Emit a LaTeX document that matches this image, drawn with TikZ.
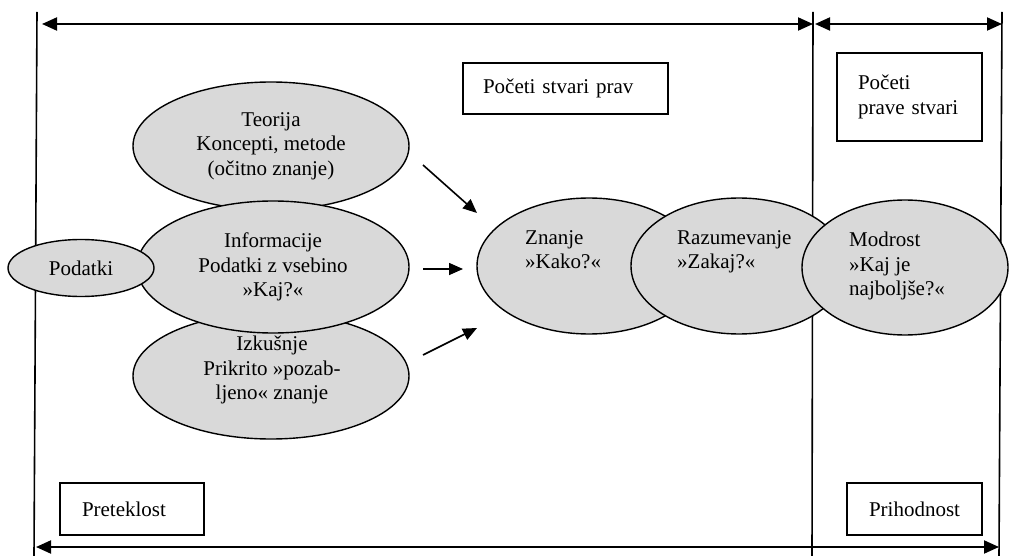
\documentclass[tikz,border=0pt]{standalone}
\usepackage{fontspec}
\setmainfont{Liberation Serif}
\usetikzlibrary{arrows.meta,shapes.geometric}
\definecolor{bubblegray}{HTML}{D9D9D9}

\begin{document}
\begin{tikzpicture}[x=1pt,y=-1pt,
  bubble/.style={ellipse,draw,line width=1.4pt,fill=bubblegray,inner sep=0pt,align=center,font=\fontsize{21}{24.5}\selectfont},
  txt/.style={inner sep=0pt,font=\fontsize{21}{24.5}\selectfont},
  tagbox/.style={draw,line width=1.8pt,fill=white,inner ysep=0pt,font=\fontsize{21}{24.5}\selectfont},
  border/.style={line width=1.6pt},
  period/.style={line width=2pt,{Triangle[length=15pt,width=13pt]}-{Triangle[length=15pt,width=13pt]}},
  flow/.style={line width=1.6pt,-{Triangle[length=14pt,width=12pt]}}]
\useasboundingbox (0,0) rectangle (1009,556);
% time axis
\draw[border] (37,12) -- (34,556);
\draw[border] (813,12) -- (812,556);
\draw[border] (1002,12) -- (999,556);
\coordinate (topl) at (42,24);
\coordinate (topm) at (813,24);
\coordinate (topm2) at (815,24);
\coordinate (topr) at (1002,24);
\coordinate (botl) at (36,547);
\coordinate (botr) at (999,547);
\draw[period] (topl) -- (topm);
\draw[period] (topm2) -- (topr);
\draw[period] (botl) -- (botr);
% labels
\node[tagbox,minimum width=205,minimum height=51,inner xsep=20,text width=165,align=left] (prav) at (565.5,88.5) {Početi stvari prav};
\node[tagbox,minimum width=145,minimum height=88,inner xsep=21,text width=103,align=left] (stvari) at (909.5,97) {Početi\\prave stvari};
\node[tagbox,minimum width=144,minimum height=52,inner xsep=22,text width=100,align=left] (preteklost) at (132,509) {Preteklost};
\node[tagbox,minimum width=135,minimum height=52,inner xsep=20,text width=95,align=center] (prihodnost) at (914.5,509) {Prihodnost};
% inputs
\node[bubble,minimum width=276,minimum height=128] (teorija) at (271,146) {Teorija\\Koncepti, metode\\(očitno znanje)};
\node[bubble,minimum width=276,minimum height=126] (izkusnje) at (271,376) {};
\node[bubble,minimum width=272,minimum height=132] (informacije) at (273,267) {Informacije\\Podatki z vsebino\\»Kaj?«};
\node[txt,align=center] (izkusnjetxt) at (272,370) {Izkušnje\\Prikrito »pozab-\\ljeno« znanje};
\node[bubble,minimum width=146,minimum height=57] (podatki) at (81,268) {Podatki};
% arrows
\coordinate (a1) at (423,165); \coordinate (b1) at (477,213);
\coordinate (a2) at (423,269); \coordinate (b2) at (463,269);
\coordinate (a3) at (423,355); \coordinate (b3) at (477,328);
\draw[flow] (a1) -- (b1);
\draw[flow] (a2) -- (b2);
\draw[flow] (a3) -- (b3);
% outputs
\node[bubble,minimum width=224,minimum height=136] (znanje) at (589,266) {};
\node[bubble,minimum width=216,minimum height=136] (razumevanje) at (739,266) {};
\node[bubble,minimum width=206,minimum height=135] (modrost) at (905,267.5) {};
\node[txt,anchor=north west,align=left] (znanjetxt) at (525,230) {Znanje\\»Kako?«};
\node[txt,anchor=north west,align=left] (razumevanjetxt) at (677,230) {Razumevanje\\»Zakaj?«};
\node[txt,anchor=north west,align=left] (modrosttxt) at (849,232) {Modrost\\»Kaj je\\najboljše?«};
\end{tikzpicture}
\end{document}
